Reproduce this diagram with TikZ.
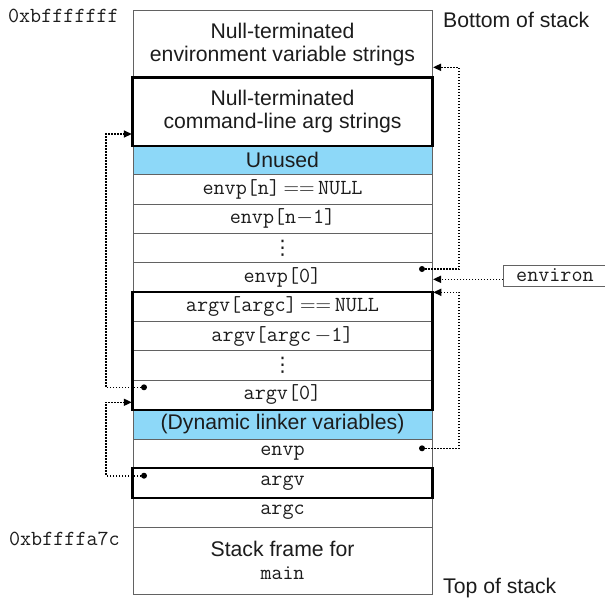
\documentclass[tikz,border=0pt]{standalone}
\usepackage{fix-cm}
\usepackage[no-math]{fontspec}
\setmainfont{Liberation Sans}
\newfontfamily\symfont{DejaVu Sans}
\usetikzlibrary{arrows.meta}
\definecolor{linegray}{HTML}{626262}
\definecolor{ink}{HTML}{1C1C1C}
\definecolor{unusedblue}{HTML}{8DD8F8}
\newcommand{\tto}[1]{\texttt{#1}}
\newcommand{\cellvdots}{{\symfont\fontsize{20}{23}\selectfont ⋮}}
\begin{document}
\begin{tikzpicture}[x=1pt,y=-1pt,
  every node/.style={font=\fontsize{21.2}{23}\selectfont, text=ink},
  cell/.style={draw=linegray, line width=0.9pt, minimum width=299pt, minimum height=29.35pt, inner sep=0pt, anchor=north, align=center},
  bluecell/.style={cell, fill=unusedblue},
  monotext/.style={font=\fontsize{21.5}{23}\selectfont\ttfamily},
  thickbox/.style={draw=black, line width=2.3pt},
  ptr/.style={draw=black, line width=1.6pt, dash pattern=on 1.5pt off 1.5pt, -{Triangle[length=8pt,width=7pt]}},
  ptrdot/.style={fill=black},
  sidelabel/.style={font=\fontsize{21.5}{23}\selectfont\ttfamily, anchor=east, inner sep=0pt},
  stacklabel/.style={anchor=west, inner sep=0pt},
  envbox/.style={draw=linegray, line width=0.9pt, minimum width=103pt, minimum height=21pt, inner sep=0pt, anchor=west, font=\fontsize{21.5}{23}\selectfont\ttfamily}
]
\useasboundingbox (0,0) rectangle (605,598);

% stack cells
\node[cell, minimum height=67.5pt] (envstr) at (282.5,10) {Null-terminated\\environment variable strings};
\node[cell, minimum height=67.5pt] (argstr) at (282.5,77.5) {Null-terminated\\command-line arg strings};
\node[bluecell] (unused) at (282.5,145) {Unused};
\node[cell, monotext] (envn) at (282.5,174.35) {envp[n]\,${=}{=}$\,NULL};
\node[cell, monotext] (envn1) at (282.5,203.7) {envp[n$-$1]};
\node[cell] (envdots) at (282.5,233.05) {\cellvdots};
\node[cell, monotext] (env0) at (282.5,262.4) {envp[0]};
\node[cell, monotext] (argvc) at (282.5,291.75) {argv[argc]\,${=}{=}$\,NULL};
\node[cell, monotext] (argvc1) at (282.5,321.1) {argv[argc\,$-$1]};
\node[cell] (argdots) at (282.5,350.45) {\cellvdots};
\node[cell, monotext] (argv0) at (282.5,379.8) {argv[0]};
\node[bluecell] (dyn) at (282.5,409.15) {(Dynamic linker variables)};
\node[cell, monotext] (envp) at (282.5,438.5) {envp};
\node[cell, monotext] (argv) at (282.5,467.85) {argv};
\node[cell, monotext] (argc) at (282.5,497.2) {argc};
\node[cell, minimum height=67.45pt] (frame) at (282.5,526.55) {Stack frame for\\\tto{main}};

% thick outlines
\draw[thickbox] (argstr.north west) rectangle (argstr.south east);
\draw[thickbox] (argvc.north west) rectangle (argv0.south east);
\draw[thickbox] (argv.north west) rectangle (argv.south east);

% side labels
\node[sidelabel] (addrtop) at (119,16) {0xbfffffff};
\node[sidelabel] (addrlow) at (120,539) {0xbffffa7c};
\node[stacklabel] (bottom) at (443,20) {Bottom of stack};
\node[stacklabel] (topst) at (443,588) {Top of stack};

% environ box
\node[envbox] (environ) at (503,275.5) {environ};

% pointer sources and targets
\coordinate (d1) at (422,269);
\coordinate (d2) at (422,448.3);
\coordinate (d3) at (144,387.3);
\coordinate (d4) at (144,475.7);
\coordinate (t1) at (433,67.3);
\coordinate (t2) at (433.3,292.3);
\coordinate (t3) at (131.8,134);
\coordinate (t4) at (131.8,402.3);
\coordinate (te) at (433,279.3);

\draw[ptr] (d1) -| ([xshift=26pt]t1) -- (t1);
\draw[ptr] (d2) -| ([xshift=25.7pt]t2) -- (t2);
\draw[ptr] (d3) -| ([xshift=-26pt]t3) -- (t3);
\draw[ptr] (d4) -| ([xshift=-26pt]t4) -- (t4);
\draw[ptr] ([yshift=-3.8pt]environ.west) -- (te);

\foreach \d in {d1,d2,d3,d4} \fill[ptrdot] (\d) circle (3pt);
\end{tikzpicture}
\end{document}
